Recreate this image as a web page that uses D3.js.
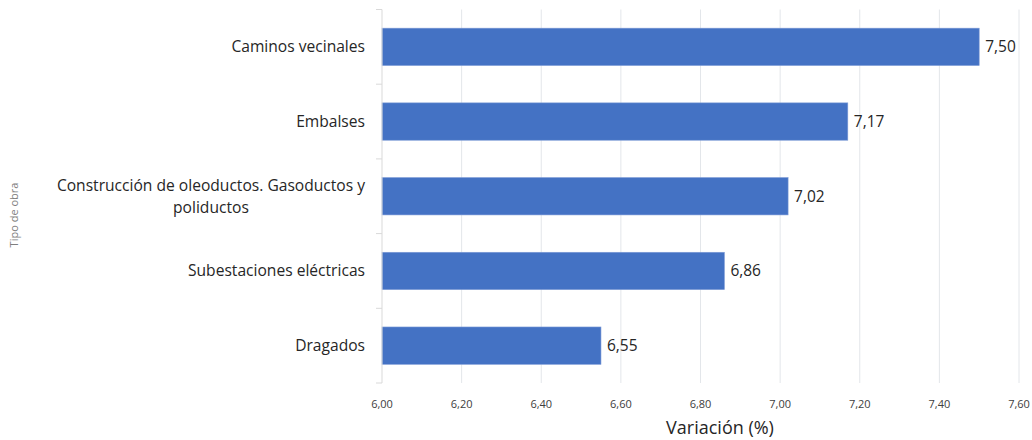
<!DOCTYPE html>
<html><head><meta charset="utf-8">
<script src="https://cdn.jsdelivr.net/npm/d3@7"></script>
<style>body{margin:0;background:#fff;}svg{display:block;font-family:"Open Sans",sans-serif;}</style>
</head><body><svg id="c" width="1032" height="440"></svg>
<script>
const categories = ["Caminos vecinales","Embalses","Construcción de oleoductos. Gasoductos y poliductos","Subestaciones eléctricas","Dragados"];
const labelLines = [["Caminos vecinales"],["Embalses"],["Construcción de oleoductos. Gasoductos y","poliductos"],["Subestaciones eléctricas"],["Dragados"]];
const values = [7.50,7.17,7.02,6.86,6.55];
const ticks = [6.00,6.20,6.40,6.60,6.80,7.00,7.20,7.40,7.60];
const fmt = v => v.toFixed(2).replace(".", ",");

const svg = d3.select("#c");
const m = {left:382, right:1019, top:9.5, bottom:383};
const x = d3.scaleLinear().domain([6.0,7.6]).range([m.left,m.right]);
const y = d3.scaleBand().domain(categories).range([m.top,m.bottom]).paddingInner(0.5).paddingOuter(0.25);

// gridlines
svg.append("g").selectAll("line").data(ticks.slice(1)).join("line")
  .attr("x1",d=>x(d)).attr("x2",d=>x(d)).attr("y1",m.top).attr("y2",m.bottom)
  .attr("stroke","#e3e6ea").attr("stroke-width",1);

// bars
svg.append("g").selectAll("rect").data(values).join("rect")
  .attr("x",x(6.0)).attr("y",(d,i)=>y(categories[i]))
  .attr("width",d=>x(d)-x(6.0)).attr("height",y.bandwidth())
  .attr("fill","#4472c4").attr("stroke","#7d9bd6").attr("stroke-width",0.6);

// left axis line + category separators
const ax = svg.append("g").attr("stroke","#d9d9d9").attr("stroke-width",1);
ax.append("line").attr("x1",m.left).attr("x2",m.left).attr("y1",m.top).attr("y2",m.bottom);
d3.range(categories.length+1).forEach(i=>{
  const yy = m.top + i*(m.bottom-m.top)/categories.length;
  ax.append("line").attr("x1",m.left-6).attr("x2",m.left).attr("y1",yy).attr("y2",yy);
});

// category labels
const fs = 15.6;
labelLines.forEach((lines,i)=>{
  const cy = y(categories[i]) + y.bandwidth()/2;
  const lh = 22;
  const t = svg.append("text").attr("font-size",fs).attr("fill","#262626");
  if(lines.length===1){
    t.attr("x",365).attr("y",cy).attr("dy","0.35em").attr("text-anchor","end").text(lines[0]);
  } else {
    const tmp = svg.append("text").attr("font-size",fs).text(lines[0]);
    const w = tmp.node().getComputedTextLength(); tmp.remove();
    const cx = 365 - w/2;
    lines.forEach((ln,k)=>{
      t.append("tspan").attr("x",cx).attr("text-anchor","middle")
       .attr("y",cy + (k-(lines.length-1)/2)*lh).attr("dy","0.35em").text(ln);
    });
  }
});

// value labels
svg.append("g").selectAll("text").data(values).join("text")
  .attr("x",d=>x(d)+6).attr("y",(d,i)=>y(categories[i])+y.bandwidth()/2).attr("dy","0.35em")
  .attr("font-size",15.5).attr("fill","#262626").text(d=>fmt(d));

// x tick labels
svg.append("g").selectAll("text").data(ticks).join("text")
  .attr("x",d=>x(d)).attr("y",404).attr("dy","0.35em").attr("text-anchor","middle")
  .attr("font-size",11).attr("fill","#404040").text(d=>fmt(d));

// axis titles
svg.append("text").attr("x",720).attr("y",428).attr("dy","0.35em").attr("text-anchor","middle")
  .attr("font-size",18).attr("fill","#262626").text("Variación (%)");
svg.append("text").attr("transform","translate(14,215) rotate(-90)").attr("dy","0.35em")
  .attr("text-anchor","middle").attr("font-size",11).attr("fill","#7f7f7f").text("Tipo de obra");
</script></body></html>
